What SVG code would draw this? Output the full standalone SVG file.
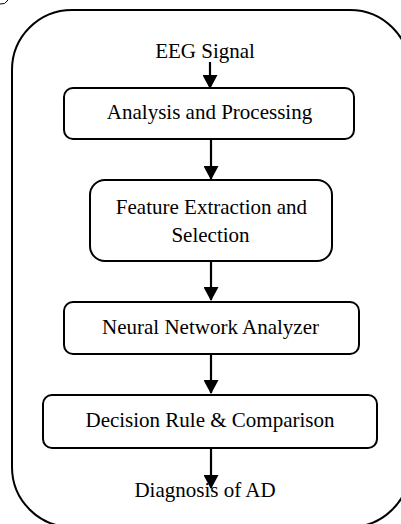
<svg xmlns="http://www.w3.org/2000/svg" width="401" height="524" viewBox="0 0 401 524">
<style>
.box{fill:#fff;stroke:#000;stroke-width:2}
.t{font-family:"Liberation Serif","Times New Roman",serif;font-size:21px;fill:#000;text-anchor:middle}
.c{stroke:#000;stroke-width:2.2;fill:none}
</style>
<defs>
<marker id="ah" markerWidth="14" markerHeight="15" refX="13" refY="7.5" orient="auto" markerUnits="userSpaceOnUse">
<path d="M0,0 L14,7.5 L0,15 Z" fill="#000"/>
</marker>
</defs>
<rect x="0" y="0" width="401" height="524" fill="#fff"/>
<path d="M0,4 Q5,5 8,0" fill="none" stroke="#000" stroke-width="1"/>
<rect id="frame" x="12" y="10" width="398" height="517" rx="60" ry="60" fill="none" stroke="#000" stroke-width="2"/>
<g id="n0"><text class="t" x="205" y="58">EEG Signal</text></g>
<g id="n1"><rect class="box" x="64" y="88" width="290" height="51" rx="9"/><text class="t" x="209.5" y="119">Analysis and Processing</text></g>
<g id="n2"><rect class="box" x="90" y="180" width="242" height="81" rx="15"/><text class="t" x="211.5" y="214">Feature Extraction and</text><text class="t" x="210.5" y="242">Selection</text></g>
<g id="n3"><rect class="box" x="64" y="302" width="295" height="52" rx="9"/><text class="t" x="210.5" y="334">Neural Network Analyzer</text></g>
<g id="n4"><rect class="box" x="43" y="395" width="334" height="53" rx="9"/><text class="t" x="210" y="427">Decision Rule &amp; Comparison</text></g>
<g id="n5"><text class="t" x="205" y="497">Diagnosis of AD</text></g>
<g id="connectors">
<path class="c" d="M210,62 V88" marker-end="url(#ah)"/>
<path class="c" d="M211,139 V179" marker-end="url(#ah)"/>
<path class="c" d="M211,261 V300" marker-end="url(#ah)"/>
<path class="c" d="M211,354 V393" marker-end="url(#ah)"/>
<path class="c" d="M211,448 V488" marker-end="url(#ah)"/>
</g>
</svg>
